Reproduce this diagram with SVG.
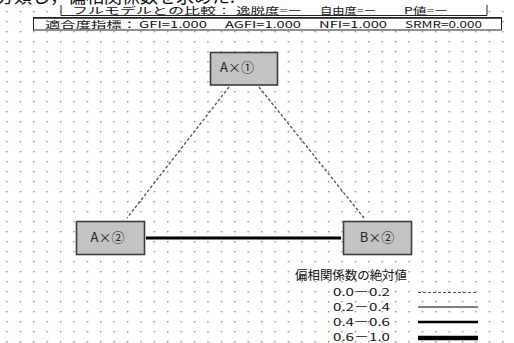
<svg xmlns="http://www.w3.org/2000/svg" width="514" height="343" viewBox="0 0 514 343">
<defs>
<pattern id="grid" patternUnits="userSpaceOnUse" x="6.3" y="1" width="13.4" height="10">
<rect x="0" y="0" width="1.4" height="1.4" fill="#8a8a8a"/>
</pattern>
<style>
.jp{font-family:"Noto Sans CJK JP","Noto Sans",sans-serif;fill:#111}
.node rect{fill:#c3c3c3;stroke:#3c3c3c;stroke-width:1.6}
.node text{font-family:"Noto Sans CJK JP","Noto Sans",sans-serif;font-size:13px;fill:#222;text-anchor:middle}
.dash{stroke:#5a5a5a;stroke-width:1.4;stroke-dasharray:3 2;fill:none}
.solid{stroke:#000;fill:none}
</style>
</defs>
<rect width="514" height="343" fill="#fff"/>
<rect width="514" height="343" fill="url(#grid)"/>
<rect width="514" height="8" fill="#fff"/>

<!-- header -->
<text class="jp" x="-4" y="3.3" font-size="18">分類し，偏相関係数を求めた.</text>
<g id="fullmodel">
<path d="M61,5 V15.5 H487 V5" fill="none" stroke="#222" stroke-width="1"/>
<rect x="62" y="7.5" width="424" height="7.5" fill="#fff"/>
<text class="jp" y="14.2" font-size="9">
<tspan x="72" textLength="160" lengthAdjust="spacingAndGlyphs">フルモデルとの比較：</tspan>
<tspan x="236" textLength="66" lengthAdjust="spacingAndGlyphs">逸脱度=ー</tspan>
<tspan x="320" textLength="56" lengthAdjust="spacingAndGlyphs">自由度=ー</tspan>
<tspan x="404" textLength="44" lengthAdjust="spacingAndGlyphs">P値=ー</tspan>
</text>
</g>

<g id="fitindex">
<rect x="33.5" y="17.5" width="468" height="12.5" fill="#fff" stroke="#222" stroke-width="1"/>
<line x1="33.5" y1="18" x2="501.5" y2="18" stroke="#222" stroke-width="1.6"/>
<text class="jp" y="28.3" font-size="9.5">
<tspan x="45" textLength="92" lengthAdjust="spacingAndGlyphs">適合度指標：</tspan>
<tspan x="139" textLength="68" lengthAdjust="spacingAndGlyphs">GFI=1.000</tspan>
<tspan x="225" textLength="76" lengthAdjust="spacingAndGlyphs">AGFI=1.000</tspan>
<tspan x="319" textLength="68" lengthAdjust="spacingAndGlyphs">NFI=1.000</tspan>
<tspan x="405" textLength="77" lengthAdjust="spacingAndGlyphs">SRMR=0.000</tspan>
</text>
</g>

<!-- connectors -->
<g id="connectors">
<line class="dash" x1="229" y1="87" x2="127" y2="218"/>
<line class="dash" x1="259" y1="87" x2="364" y2="218"/>
<line class="solid" x1="146" y1="238" x2="341" y2="238" stroke-width="3"/>
</g>

<!-- nodes -->
<g id="node-a1" class="node">
<rect x="210.5" y="52.5" width="67" height="32.5"/>
<text x="237" y="71.5">A×①</text>
</g>
<g id="node-a2" class="node">
<rect x="76.5" y="221.5" width="68" height="33"/>
<text x="107.5" y="241.5">A×②</text>
</g>
<g id="node-b2" class="node">
<rect x="343.5" y="221.5" width="68" height="33"/>
<text x="377" y="241.5">B×②</text>
</g>

<!-- legend -->
<g id="legend">
<text class="jp" x="295" y="280" font-size="12.5" textLength="112" lengthAdjust="spacingAndGlyphs">偏相関係数の絶対値</text>
<text class="jp" x="333" y="296" font-size="11" textLength="57" lengthAdjust="spacingAndGlyphs">0.0－0.2</text>
<text class="jp" x="333" y="311" font-size="11" textLength="57" lengthAdjust="spacingAndGlyphs">0.2－0.4</text>
<text class="jp" x="333" y="326" font-size="11" textLength="57" lengthAdjust="spacingAndGlyphs">0.4－0.6</text>
<text class="jp" x="333" y="341" font-size="11" textLength="57" lengthAdjust="spacingAndGlyphs">0.6－1.0</text>
<line x1="418" y1="292.5" x2="478" y2="292.5" stroke="#555" stroke-width="1" stroke-dasharray="3 2"/>
<line class="solid" x1="418" y1="307" x2="478" y2="307" stroke-width="1"/>
<line class="solid" x1="418" y1="322" x2="478" y2="322" stroke-width="2.6"/>
<line class="solid" x1="418" y1="338" x2="478" y2="338" stroke-width="4.5"/>
</g>
</svg>
